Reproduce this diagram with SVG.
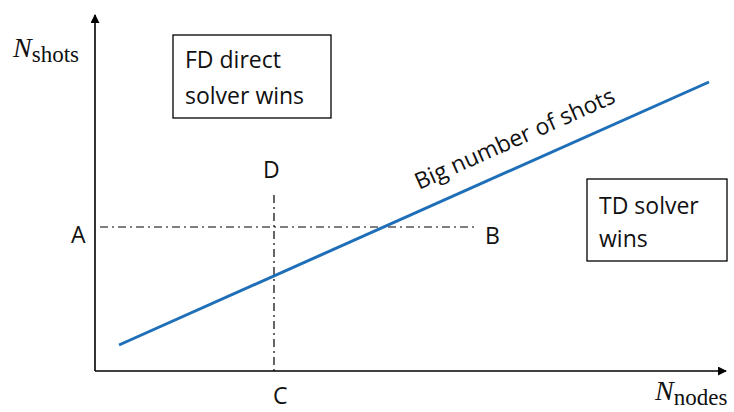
<svg xmlns="http://www.w3.org/2000/svg" width="734" height="412" viewBox="0 0 734 412">
<style>
.t{font-family:"Open Sans","Liberation Sans",sans-serif;font-size:23px;fill:#111}
.m{font-family:"Liberation Serif","DejaVu Serif",serif;fill:#111}
.ax{stroke:#000;stroke-width:1.6;fill:none}
.dd{stroke:#000;stroke-width:1.2;stroke-dasharray:8 4 2 4;fill:none}
.box{fill:#fff;stroke:#000;stroke-width:1.3}
</style>
<defs>
<marker id="ah" viewBox="0 0 10 10" refX="9" refY="5" markerWidth="9" markerHeight="9" markerUnits="userSpaceOnUse" orient="auto">
<path d="M0,0 L10,5 L0,10 z" fill="#000"/>
</marker>
</defs>
<rect width="734" height="412" fill="#fff"/>
<g id="connectors">
<line class="ax" x1="95" y1="371" x2="95" y2="15" marker-end="url(#ah)"/>
<line class="ax" x1="95" y1="371" x2="726" y2="371" marker-end="url(#ah)"/>
<line class="dd" x1="100" y1="227" x2="474" y2="227"/>
<line class="dd" x1="274" y1="195" x2="274" y2="371"/>
<line x1="119" y1="345" x2="709" y2="82" stroke="#1f6fb8" stroke-width="3"/>
</g>
<g id="ylabel"><text class="m" x="13" y="57"><tspan font-style="italic" font-size="28">N</tspan><tspan font-size="23" dy="5">shots</tspan></text></g>
<g id="xlabel"><text class="m" x="655" y="400"><tspan font-style="italic" font-size="28">N</tspan><tspan font-size="23" dy="5">nodes</tspan></text></g>
<g id="fd"><rect class="box" x="173" y="35" width="158" height="83"/>
<text class="t" x="185" y="68">FD direct</text><text class="t" x="185" y="104">solver wins</text></g>
<g id="td"><rect class="box" x="587" y="179" width="140" height="82"/>
<text class="t" x="599" y="214">TD solver</text><text class="t" x="599" y="247">wins</text></g>
<g id="A"><text class="t" x="71" y="243">A</text></g>
<g id="B"><text class="t" x="485" y="244">B</text></g>
<g id="C"><text class="t" x="273" y="404">C</text></g>
<g id="D"><text class="t" x="263" y="178">D</text></g>
<g id="curve-label"><text class="t" font-size="24" transform="translate(419,190) rotate(-24)">Big number of shots</text></g>
</svg>
